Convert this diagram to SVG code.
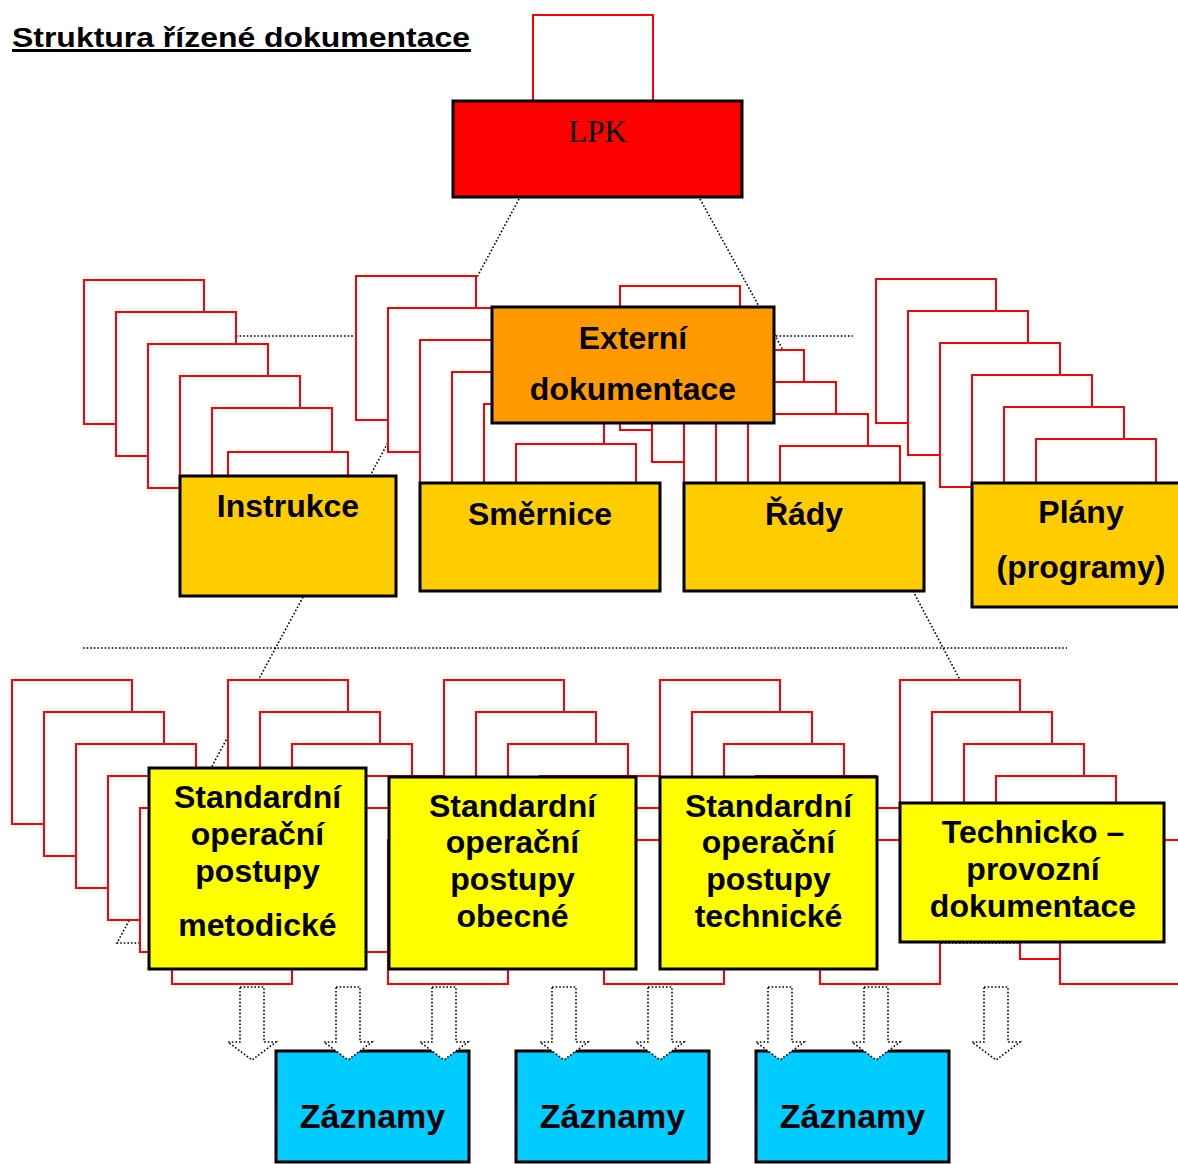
<svg xmlns="http://www.w3.org/2000/svg" width="1178" height="1164" viewBox="0 0 1178 1164">
<defs>
<style>
.pg{fill:#fff;stroke:#ff0000;stroke-width:2}
.bx{stroke:#000;stroke-width:3}
.dot{fill:none;stroke:#000;stroke-width:1.6;stroke-dasharray:1.6 2}
.arr{fill:#fff;stroke:#000;stroke-width:1.6;stroke-dasharray:1.6 2}
.t{font-family:"Liberation Sans",Arial,sans-serif;font-weight:bold;font-size:32px;text-anchor:middle;fill:#000}
</style>
<rect id="p" width="120" height="144"/>
</defs>
<rect width="1178" height="1164" fill="#fff"/>

<g id="title">
<text x="12" y="47" font-family="Liberation Sans, Arial, sans-serif" font-weight="bold" font-size="27" textLength="458" lengthAdjust="spacingAndGlyphs">Struktura řízené dokumentace</text>
<line x1="12" y1="50.5" x2="471" y2="50.5" stroke="#000" stroke-width="3"/>
</g>

<g id="connectors">
<path class="dot" d="M519,199 L370,476"/>
<path class="dot" d="M700,199 L856,483"/>
<path class="dot" d="M200,336 L853,336"/>
<path class="dot" d="M83,648 L1067,648"/>
<path class="dot" d="M303,597 L117,943 L140,943"/>
<path class="dot" d="M913,591 L1099,943 L940,943"/>
</g>

<g id="page-stacks">
<g id="stack-lpk"><use href="#p" class="pg" x="533" y="15"/></g>
<g id="stack-instrukce">
<use href="#p" class="pg" x="84" y="280"/><use href="#p" class="pg" x="116" y="312"/><use href="#p" class="pg" x="148" y="344"/><use href="#p" class="pg" x="180" y="376"/><use href="#p" class="pg" x="212" y="408"/><use href="#p" class="pg" x="228" y="452"/>
</g>
<g id="stack-smernice">
<use href="#p" class="pg" x="356" y="276"/><use href="#p" class="pg" x="388" y="308"/><use href="#p" class="pg" x="420" y="340"/><use href="#p" class="pg" x="452" y="372"/><use href="#p" class="pg" x="484" y="404"/><use href="#p" class="pg" x="516" y="444"/>
</g>
<g id="stack-rady">
<use href="#p" class="pg" x="620" y="286"/><use href="#p" class="pg" x="652" y="318"/><use href="#p" class="pg" x="684" y="350"/><use href="#p" class="pg" x="716" y="382"/><use href="#p" class="pg" x="748" y="414"/><use href="#p" class="pg" x="780" y="446"/>
</g>
<g id="stack-plany">
<use href="#p" class="pg" x="876" y="279"/><use href="#p" class="pg" x="908" y="311"/><use href="#p" class="pg" x="940" y="343"/><use href="#p" class="pg" x="972" y="375"/><use href="#p" class="pg" x="1004" y="407"/><use href="#p" class="pg" x="1036" y="439"/>
</g>
<g id="stack-m">
<use href="#p" class="pg" x="12" y="680"/><use href="#p" class="pg" x="44" y="712"/><use href="#p" class="pg" x="76" y="744"/><use href="#p" class="pg" x="108" y="776"/><use href="#p" class="pg" x="140" y="808"/><use href="#p" class="pg" x="172" y="840"/>
</g>
<g id="stack-s">
<use href="#p" class="pg" x="228" y="680"/><use href="#p" class="pg" x="260" y="712"/><use href="#p" class="pg" x="292" y="744"/><use href="#p" class="pg" x="324" y="776"/><use href="#p" class="pg" x="356" y="808"/><use href="#p" class="pg" x="388" y="840"/>
</g>
<g id="stack-o">
<use href="#p" class="pg" x="444" y="680"/><use href="#p" class="pg" x="476" y="712"/><use href="#p" class="pg" x="508" y="744"/><use href="#p" class="pg" x="540" y="776"/><use href="#p" class="pg" x="572" y="808"/><use href="#p" class="pg" x="604" y="840"/>
</g>
<g id="stack-t">
<use href="#p" class="pg" x="660" y="680"/><use href="#p" class="pg" x="692" y="712"/><use href="#p" class="pg" x="724" y="744"/><use href="#p" class="pg" x="756" y="776"/><use href="#p" class="pg" x="788" y="808"/><use href="#p" class="pg" x="820" y="840"/>
</g>
<g id="stack-tp">
<use href="#p" class="pg" x="900" y="680"/><use href="#p" class="pg" x="932" y="712"/><use href="#p" class="pg" x="964" y="744"/><use href="#p" class="pg" x="996" y="776"/><use href="#p" class="pg" x="1020" y="815"/><use href="#p" class="pg" x="1060" y="840"/>
</g>
</g>

<g id="lpk">
<rect class="bx" x="453" y="101" width="289" height="96" fill="#ff0000"/>
<text x="597.5" y="142" font-family="Liberation Serif, 'Times New Roman', serif" font-size="31" text-anchor="middle">LPK</text>
</g>
<g id="externi">
<rect class="bx" x="492" y="307" width="282" height="116" fill="#ff9900"/>
<text class="t" x="633" y="349">Externí</text>
<text class="t" x="633" y="400">dokumentace</text>
</g>
<g id="instrukce">
<rect class="bx" x="180" y="476" width="216" height="120" fill="#ffcc00"/>
<text class="t" x="288" y="517">Instrukce</text>
</g>
<g id="smernice">
<rect class="bx" x="420" y="483" width="240" height="108" fill="#ffcc00"/>
<text class="t" x="540" y="525">Směrnice</text>
</g>
<g id="rady">
<rect class="bx" x="684" y="483" width="240" height="108" fill="#ffcc00"/>
<text class="t" x="804" y="525">Řády</text>
</g>
<g id="plany">
<rect class="bx" x="972" y="483" width="218" height="124" fill="#ffcc00"/>
<text class="t" x="1081" y="523">Plány</text>
<text class="t" x="1081" y="578">(programy)</text>
</g>
<g id="sop-metodicke">
<rect class="bx" x="149" y="768" width="217" height="201" fill="#ffff00"/>
<text class="t" x="257.5" y="808">Standardní</text>
<text class="t" x="257.5" y="845">operační</text>
<text class="t" x="257.5" y="882">postupy</text>
<text class="t" x="257.5" y="936">metodické</text>
</g>
<g id="sop-obecne">
<rect class="bx" x="389" y="777" width="247" height="192" fill="#ffff00"/>
<text class="t" x="512.5" y="817">Standardní</text>
<text class="t" x="512.5" y="853">operační</text>
<text class="t" x="512.5" y="890">postupy</text>
<text class="t" x="512.5" y="927">obecné</text>
</g>
<g id="sop-technicke">
<rect class="bx" x="660" y="777" width="217" height="192" fill="#ffff00"/>
<text class="t" x="768.5" y="817">Standardní</text>
<text class="t" x="768.5" y="853">operační</text>
<text class="t" x="768.5" y="890">postupy</text>
<text class="t" x="768.5" y="927">technické</text>
</g>
<g id="technicko-provozni">
<rect class="bx" x="900" y="803" width="264" height="139" fill="#ffff00"/>
<text class="t" x="1033" y="843">Technicko –</text>
<text class="t" x="1033" y="880">provozní</text>
<text class="t" x="1033" y="917">dokumentace</text>
</g>
<g id="zaznamy-1">
<rect class="bx" x="276" y="1051" width="193" height="111" fill="#00ccff"/>
<text class="t" x="372.5" y="1128" style="font-size:34px">Záznamy</text>
</g>
<g id="zaznamy-2">
<rect class="bx" x="516" y="1051" width="193" height="111" fill="#00ccff"/>
<text class="t" x="612.5" y="1128" style="font-size:34px">Záznamy</text>
</g>
<g id="zaznamy-3">
<rect class="bx" x="756" y="1051" width="193" height="111" fill="#00ccff"/>
<text class="t" x="852.5" y="1128" style="font-size:34px">Záznamy</text>
</g>

<g id="record-arrows">
<path id="a" class="arr" d="M240,987 L264,987 L264,1042 L276,1042 L252,1060 L228,1042 L240,1042 Z"/>
<use href="#a" x="96"/>
<use href="#a" x="192"/>
<use href="#a" x="312"/>
<use href="#a" x="408"/>
<use href="#a" x="528"/>
<use href="#a" x="624"/>
<use href="#a" x="744"/>
</g>
</svg>
